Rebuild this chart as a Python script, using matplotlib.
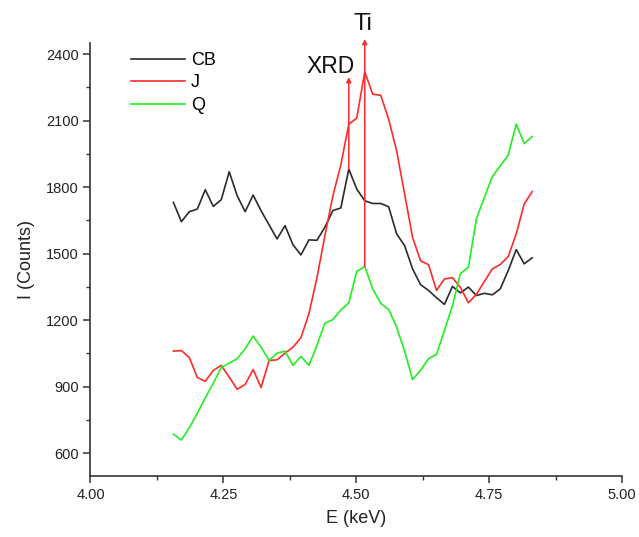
import matplotlib
matplotlib.use("Agg")
import matplotlib.pyplot as plt
from matplotlib.ticker import MultipleLocator

plt.rcParams["font.family"] = ["Liberation Sans", "DejaVu Sans"]

energy = [4.156, 4.171, 4.186, 4.201, 4.216, 4.231, 4.246, 4.261, 4.276, 4.291,
          4.306, 4.321, 4.336, 4.351, 4.366, 4.381, 4.396, 4.411, 4.426, 4.441,
          4.456, 4.471, 4.486, 4.501, 4.516, 4.531, 4.546, 4.561, 4.576, 4.591,
          4.606, 4.621, 4.636, 4.651, 4.666, 4.681, 4.696, 4.711, 4.726, 4.741,
          4.756, 4.771, 4.786, 4.801, 4.816, 4.831]

cb = [1731, 1644, 1689, 1701, 1788, 1713, 1743, 1869, 1761, 1689,
      1764, 1693, 1630, 1566, 1626, 1540, 1494, 1562, 1560, 1619,
      1694, 1706, 1881, 1791, 1738, 1726, 1726, 1711, 1589, 1536,
      1431, 1360, 1334, 1301, 1271, 1352, 1323, 1349, 1311, 1321,
      1314, 1341, 1424, 1518, 1454, 1481]

j = [1060, 1063, 1031, 941, 924, 973, 996, 943, 888, 910,
     977, 896, 1018, 1021, 1051, 1078, 1121, 1229, 1390, 1580,
     1760, 1900, 2084, 2111, 2320, 2219, 2214, 2106, 1963, 1769,
     1573, 1468, 1450, 1334, 1386, 1391, 1348, 1278, 1316, 1374,
     1431, 1451, 1487, 1589, 1724, 1780]

q = [686, 659, 715, 780, 850, 915, 986, 1006, 1026, 1071,
     1128, 1078, 1018, 1051, 1060, 996, 1036, 996, 1086, 1186,
     1202, 1246, 1278, 1420, 1442, 1341, 1276, 1248, 1168, 1060,
     932, 974, 1026, 1046, 1154, 1265, 1410, 1438, 1656, 1753,
     1847, 1896, 1945, 2084, 1996, 2028]

series_names = ["CB", "J", "Q"]
xticks = [4.00, 4.25, 4.50, 4.75, 5.00]
yticks = [600, 900, 1200, 1500, 1800, 2100, 2400]

ti_idx = 24
xrd_idx = 22
ti_top = 2468
xrd_top = 2296

c_cb = "#2b2b2b"
c_j = "#ff2a2a"
c_q = "#22ee22"

fig = plt.figure(figsize=(6.39, 5.37), dpi=100)
ax = fig.add_axes([0.1416, 0.1136, 0.8318, 0.8064])

ax.plot(energy, cb, color=c_cb, lw=1.2, label=series_names[0])
ax.plot(energy, j, color=c_j, lw=1.2, label=series_names[1])
ax.plot(energy, q, color=c_q, lw=1.2, label=series_names[2])

ax.set_xlim(4.0, 5.0)
ax.set_ylim(497, 2450)
ax.set_xticks(xticks)
ax.set_xticklabels([f"{t:.2f}" for t in xticks])
ax.set_yticks(yticks)
ax.xaxis.set_minor_locator(MultipleLocator(0.125))
ax.yaxis.set_minor_locator(MultipleLocator(150))

for s in ["top", "right"]:
    ax.spines[s].set_visible(False)
for s in ["left", "bottom"]:
    ax.spines[s].set_color("#333333")
    ax.spines[s].set_linewidth(1.2)

ax.tick_params(axis="both", which="major", direction="out", length=5, width=1.1,
               labelsize=10.5, colors="#333333", labelcolor="#222222")
ax.tick_params(axis="both", which="minor", direction="out", length=3, width=1.0,
               colors="#333333")

ax.set_xlabel("E (keV)", fontsize=13, color="#222222", labelpad=6)
ax.set_ylabel("I (Counts)", fontsize=13, color="#222222", labelpad=8)

leg = ax.legend(loc="upper left", bbox_to_anchor=(0.046, 1.0165), frameon=False,
                fontsize=13, handlelength=3.0, handletextpad=0.3, labelspacing=0.3)

# arrows
ax.annotate("", xy=(energy[ti_idx], ti_top), xytext=(energy[ti_idx], q[ti_idx]),
            arrowprops=dict(arrowstyle="-|>", color=c_j, lw=1.1, mutation_scale=7,
                            shrinkA=0, shrinkB=0), annotation_clip=False)
ax.annotate("", xy=(energy[xrd_idx], xrd_top), xytext=(energy[xrd_idx], cb[xrd_idx]),
            arrowprops=dict(arrowstyle="-|>", color=c_j, lw=1.1, mutation_scale=7,
                            shrinkA=0, shrinkB=0), annotation_clip=False)
ax.text(energy[ti_idx] - 0.003, 2535, "Ti", fontsize=17, ha="center", va="center",
        color="#111111", clip_on=False)
ax.text(energy[xrd_idx] + 0.012, 2345, "XRD", fontsize=16.5, ha="right", va="center",
        color="#111111", clip_on=False)

fig.savefig("out.png", dpi=100)
